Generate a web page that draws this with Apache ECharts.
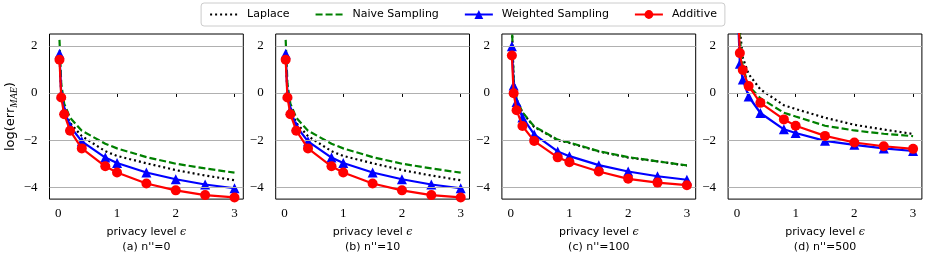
<!DOCTYPE html>
<html><head><meta charset="utf-8">
<script src="https://cdn.jsdelivr.net/npm/echarts@6/dist/echarts.min.js"></script>
<style>html,body{margin:0;padding:0;background:#fff}#c{width:926px;height:260px}</style>
</head><body><div id="c"></div>
<script>
// privacy levels (x)
const eps = [0.02, 0.05, 0.1, 0.2, 0.4, 0.8, 1, 1.5, 2, 2.5, 3];
const xTicks = [0, 1, 2, 3];
const yTicks = [-4, -2, 0, 2];
const seriesNames = ['Laplace', 'Naive Sampling', 'Weighted Sampling', 'Additive'];
const panelTitles = ["(a) n''=0", "(b) n''=10", "(c) n''=100", "(d) n''=500"];

// (a) n''=0
const laplaceA  = [1.6, -0.05, -0.7, -1.27, -1.83, -2.47, -2.67, -2.98, -3.27, -3.5, -3.7];
const naiveA    = [2.25, 0.4, -0.45, -1.05, -1.6, -2.15, -2.35, -2.72, -3.0, -3.2, -3.38];
const weightedA = [1.66, -0.05, -0.72, -1.41, -2.05, -2.74, -2.97, -3.37, -3.66, -3.88, -4.04];
const additiveA = [1.41, -0.19, -0.9, -1.6, -2.35, -3.11, -3.37, -3.84, -4.13, -4.33, -4.43];
// (b) n''=10
const laplaceB  = [1.6, -0.05, -0.7, -1.27, -1.83, -2.47, -2.67, -2.98, -3.27, -3.5, -3.7];
const naiveB    = [2.25, 0.4, -0.45, -1.05, -1.6, -2.15, -2.35, -2.72, -3.0, -3.2, -3.38];
const weightedB = [1.66, -0.05, -0.72, -1.41, -2.05, -2.74, -2.97, -3.37, -3.66, -3.88, -4.04];
const additiveB = [1.41, -0.19, -0.9, -1.6, -2.35, -3.11, -3.37, -3.84, -4.13, -4.33, -4.43];
// (c) n''=100
const laplaceC  = [2.85, 0.55, -0.28, -0.84, -1.44, -2.0, -2.12, -2.48, -2.74, -2.9, -3.08];
const naiveC    = [2.9, 0.6, -0.25, -0.82, -1.42, -1.98, -2.1, -2.47, -2.72, -2.9, -3.07];
const weightedC = [1.98, 0.32, -0.38, -1.04, -1.76, -2.48, -2.68, -3.06, -3.33, -3.53, -3.68];
const additiveC = [1.59, -0.01, -0.73, -1.4, -2.04, -2.73, -2.94, -3.33, -3.64, -3.8, -3.91];
// (d) n''=500
const laplaceD  = [4.5, 2.7, 1.5, 0.8, 0.15, -0.52, -0.68, -1.05, -1.35, -1.55, -1.74];
const naiveD    = [4.3, 2.3, 1.1, 0.3, -0.22, -0.84, -1.0, -1.39, -1.59, -1.73, -1.83];
const weightedD = [3.2, 1.24, 0.57, -0.15, -0.85, -1.54, -1.7, -2.03, -2.2, -2.35, -2.46];
const additiveD = [3.6, 1.69, 0.97, 0.29, -0.42, -1.12, -1.39, -1.82, -2.1, -2.26, -2.37];

const panels = [
  [laplaceA, naiveA, weightedA, additiveA],
  [laplaceB, naiveB, weightedB, additiveB],
  [laplaceC, naiveC, weightedC, additiveC],
  [laplaceD, naiveD, weightedD, additiveD]
];

const styles = [
  {color: '#000000', type: [2, 3], symbol: 'none', size: 0},
  {color: '#008000', type: [7, 3], symbol: 'none', size: 0},
  {color: '#0000ff', type: 'solid', symbol: 'triangle', size: 10},
  {color: '#ff0000', type: 'solid', symbol: 'circle', size: 10}
];

const fmt = v => (v < 0 ? '\u2212' + Math.abs(v) : String(v));
const grids = [], xAxes = [], yAxes = [], series = [];

panels.forEach((vals, i) => {
  grids.push({left: 49.5 + i * 226.2, top: 34, width: 193.8, height: 170,
    show: true, borderColor: '#000', borderWidth: 1, backgroundColor: 'transparent'});
  xAxes.push({
    gridIndex: i, type: 'value', min: -0.15, max: 3.15,
    axisLine: {show: false},
    axisTick: {show: true, inside: false, length: 4, lineStyle: {color: '#000', width: 1}, customValues: xTicks},
    axisLabel: {customValues: xTicks, margin: 8, fontFamily: '"Liberation Serif", serif', fontSize: 13, color: '#000', formatter: fmt},
    splitLine: {show: false},
    name: '{t|privacy level }{e|\u03f5}\n{t|' + panelTitles[i] + '}',
    nameLocation: 'middle', nameGap: 23,
    nameTextStyle: {color: '#000', fontFamily: 'DejaVu Sans', fontSize: 11, lineHeight: 15,
      rich: {t: {fontFamily: 'DejaVu Sans', fontSize: 11, lineHeight: 15, color: '#000'},
             e: {fontFamily: 'DejaVu Serif', fontStyle: 'italic', fontSize: 11, lineHeight: 15, color: '#000'}}}
  });
  const ya = {
    gridIndex: i, type: 'value', min: -4.5, max: 2.5,
    axisLine: {show: false},
    axisTick: {show: true, inside: false, length: 4, lineStyle: {color: '#000', width: 1}, customValues: yTicks},
    axisLabel: {customValues: yTicks, margin: 12, fontFamily: '"Liberation Serif", serif', fontSize: 13, color: '#000', formatter: fmt},
    splitLine: {show: false}
  };
  if (i === 0) {
    ya.name = '{a|log(err}{s|MAE}{a|)}';
    ya.nameLocation = 'middle';
    ya.nameGap = 30;
    ya.nameRotate = 90;
    ya.nameTextStyle = {color: '#000', fontSize: 13,
      rich: {a: {fontFamily: 'DejaVu Sans', fontSize: 13, lineHeight: 17, color: '#000'},
             s: {fontFamily: '"Liberation Serif", serif', fontStyle: 'italic', fontSize: 10, lineHeight: 10, verticalAlign: 'bottom', color: '#000'}}};
  }
  yAxes.push(ya);
  // horizontal grid lines at the y ticks
  series.push({type: 'line', xAxisIndex: i, yAxisIndex: i, data: [], z: 1, silent: true,
    markLine: {silent: true, symbol: 'none', label: {show: false}, animation: false,
      lineStyle: {color: '#b0b0b0', width: 1, type: 'solid'},
      data: yTicks.map(v => ({yAxis: v}))}});
  vals.forEach((arr, k) => {
    const st = styles[k];
    series.push({
      name: seriesNames[k], type: 'line', xAxisIndex: i, yAxisIndex: i,
      data: eps.map((e, j) => [e, arr[j]]),
      symbol: st.symbol, symbolSize: st.size, showSymbol: st.symbol !== 'none',
      clip: true, z: 2 + k,
      lineStyle: {color: st.color, width: 2.2, type: st.type},
      itemStyle: {color: st.color},
      emphasis: {disabled: true}
    });
  });
});

const chart = echarts.init(document.getElementById('c'), null, {renderer: 'canvas'});
chart.setOption({
  animation: false,
  backgroundColor: '#fff',
  legend: {
    data: [
      {name: 'Laplace', itemStyle: {opacity: 0}},
      {name: 'Naive Sampling', itemStyle: {opacity: 0}},
      {name: 'Weighted Sampling'},
      {name: 'Additive'}
    ],
    left: 'center', top: 3,
    padding: [6, 8, 6, 8], itemGap: 25, itemWidth: 28, itemHeight: 11,
    borderColor: '#cccccc', borderWidth: 1, borderRadius: 3,
    textStyle: {fontFamily: 'DejaVu Sans', fontSize: 11, color: '#000', padding: [0, 0, 0, 4]}
  },
  grid: grids, xAxis: xAxes, yAxis: yAxes, series: series
});
</script>
</body></html>
